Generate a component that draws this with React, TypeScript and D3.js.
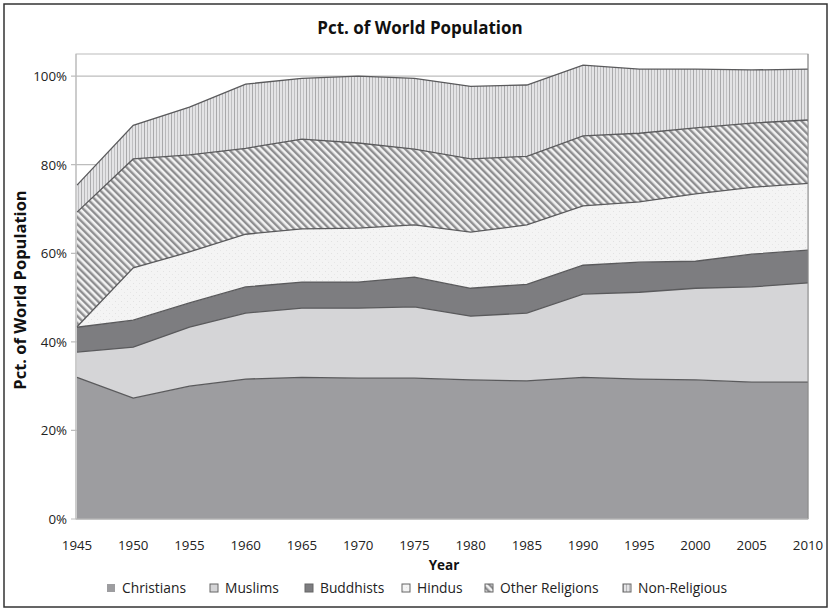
import React from "react";
import * as d3 from "d3";

const years = [1945, 1950, 1955, 1960, 1965, 1970, 1975, 1980, 1985, 1990, 1995, 2000, 2005, 2010];
const christians = [32.0, 27.3, 30.0, 31.6, 32.0, 31.8, 31.8, 31.4, 31.2, 32.0, 31.6, 31.4, 30.9, 30.9];
const muslims = [5.7, 11.5, 13.3, 14.9, 15.6, 15.8, 16.1, 14.4, 15.3, 18.8, 19.6, 20.7, 21.5, 22.4];
const buddhists = [5.6, 6.1, 5.5, 5.9, 5.9, 5.9, 6.7, 6.3, 6.5, 6.5, 6.8, 6.1, 7.4, 7.4];
const hindus = [0.1, 11.8, 11.5, 11.9, 12.0, 12.2, 11.8, 12.7, 13.4, 13.4, 13.6, 15.2, 15.1, 15.1];
const otherReligions = [25.9, 24.6, 21.9, 19.4, 20.3, 19.2, 17.1, 16.5, 15.5, 15.8, 15.5, 14.9, 14.5, 14.3];
const nonReligious = [6.1, 7.6, 10.8, 14.5, 13.7, 15.1, 16.0, 16.4, 16.1, 16.0, 14.5, 13.3, 12.0, 11.5];

const seriesNames = ["Christians", "Muslims", "Buddhists", "Hindus", "Other Religions", "Non-Religious"];
const seriesValues = [christians, muslims, buddhists, hindus, otherReligions, nonReligious];
const yTicks = [0, 20, 40, 60, 80, 100];

const fills = ["#9d9da0", "#d5d5d7", "#7d7d80", "url(#dots)", "url(#diag)", "url(#vert)"];

export default function App() {
  const W = 830, H = 611;
  const left = 76, right = 808, top = 54, bottom = 519;
  const x = d3.scaleLinear().domain([1945, 2010]).range([left + 1, right]);
  const y = d3.scaleLinear().domain([0, 105]).range([bottom, top]);

  const table = years.map((yr, i) => {
    const row: any = { year: yr };
    seriesNames.forEach((n, k) => (row[n] = seriesValues[k][i]));
    return row;
  });
  const stacked = d3.stack().keys(seriesNames)(table as any);
  const area = d3
    .area<any>()
    .x((d) => x(d.data.year))
    .y0((d) => y(d[0]))
    .y1((d) => y(d[1]));
  const topLine = d3
    .line<any>()
    .x((d) => x(d.data.year))
    .y((d) => y(d[1]));

  const font = "'Open Sans', 'DejaVu Sans', sans-serif";
  const legendX = [107, 210, 305, 402, 485, 623];

  return (
    <svg width={W} height={H} style={{ position: "absolute", left: 0, top: 0 }}>
      <defs>
        <pattern id="dots" width="6" height="6" patternUnits="userSpaceOnUse">
          <rect width="6" height="6" fill="#f4f4f4" />
          <rect x="1" y="1" width="1" height="1" fill="#e2e2e2" />
          <rect x="4" y="4" width="1" height="1" fill="#e6e6e6" />
        </pattern>
        <pattern id="diag" width="5" height="5" patternUnits="userSpaceOnUse" patternTransform="rotate(-45)">
          <rect width="5" height="5" fill="#f2f2f2" />
          <rect x="0" y="0" width="2.4" height="5" fill="#8e8e90" />
        </pattern>
        <pattern id="vert" width="9" height="10" patternUnits="userSpaceOnUse">
          <rect width="9" height="10" fill="#e4e4e6" />
          <rect x="0" y="0" width="1" height="10" fill="#a9a9ab" />
          <rect x="3" y="0" width="1" height="10" fill="#b8b8ba" />
          <rect x="6" y="0" width="1" height="10" fill="#c0c0c2" />
        </pattern>
      </defs>
      <rect x={0} y={0} width={W} height={H} fill="#fff" />
      <rect x={4} y={4} width={823} height={603} fill="#fff" stroke="#333" strokeWidth={1.5} />
      <text x={420} y={34} textAnchor="middle" fontFamily={font} fontWeight="bold" fontSize={17} fill="#111">
        Pct. of World Population
      </text>
      {/* plot frame */}
      <rect x={left} y={top} width={right - left} height={bottom - top} fill="#fff" stroke="#bbb" strokeWidth={1} />
      {yTicks.map((t) => (
        <g key={t}>
          <line x1={left - 5} x2={right} y1={y(t)} y2={y(t)} stroke="#bdbdbd" strokeWidth={1.2} />
          <text x={left - 9} y={y(t) + 5} textAnchor="end" fontFamily={font} fontSize={13.3} fill="#222">
            {t}%
          </text>
        </g>
      ))}
      {stacked.map((s, k) => (
        <path key={seriesNames[k]} d={area(s as any) || ""} fill={fills[k]} />
      ))}
      {stacked.map((s, k) => (
        <path key={"l" + k} d={topLine(s as any) || ""} fill="none" stroke="#5a5a5c" strokeWidth={1.3} />
      ))}
      <line x1={left} x2={left} y1={top} y2={bottom} stroke="#bbb" />
      <line x1={right} x2={right} y1={top} y2={bottom} stroke="#888" />
      <line x1={left} x2={right} y1={bottom} y2={bottom} stroke="#bbb" />
      {years.map((yr) => (
        <text key={yr} x={x(yr)} y={bottom + 31} textAnchor="middle" fontFamily={font} fontSize={13.3} fill="#222">
          {yr}
        </text>
      ))}
      <text x={444} y={570} textAnchor="middle" fontFamily={font} fontWeight="bold" fontSize={13.5} fill="#111">
        Year
      </text>
      <text
        transform={`translate(26, 290) rotate(-90)`}
        textAnchor="middle"
        fontFamily={font}
        fontWeight="bold"
        fontSize={16.5}
        fill="#111"
      >
        Pct. of World Population
      </text>
      {seriesNames.map((n, k) => (
        <g key={n} transform={`translate(${legendX[k]}, 589)`}>
          <rect x={0} y={-5} width={8} height={8} fill={fills[k]} stroke={k === 0 ? "none" : "#666"} strokeWidth={1} />
          <text x={15} y={4} fontFamily={font} fontSize={13.8} fill="#222">
            {n}
          </text>
        </g>
      ))}
    </svg>
  );
}
